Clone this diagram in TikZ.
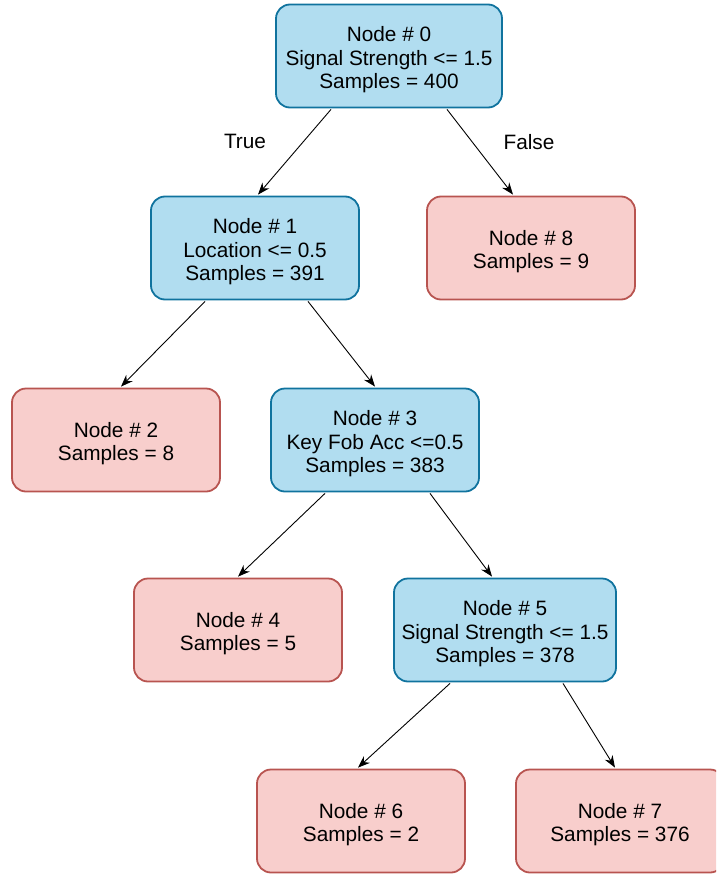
\documentclass[tikz,border=0pt]{standalone}
\usepackage{fontspec}
\setmainfont{Liberation Sans}
\usetikzlibrary{arrows.meta}
\definecolor{bfill}{HTML}{B1DDF0}
\definecolor{bdraw}{HTML}{10739E}
\definecolor{rfill}{HTML}{F8CECC}
\definecolor{rdraw}{HTML}{B85450}
\newcommand{\boxtext}[1]{\raisebox{-9.7pt}[0pt][0pt]{\begin{tabular}{@{}c@{}}#1\end{tabular}}}
\tikzset{
  box/.style={rounded corners=14pt, line width=1.8pt, minimum width=208pt, minimum height=103pt,
    font=\fontsize{20.8}{23.5}\selectfont, inner sep=0pt},
  split/.style={box, fill=bfill, draw=bdraw},
  leaf/.style={box, fill=rfill, draw=rdraw},
  arr/.style={-{Stealth[length=12pt,width=9pt]}, line width=0.9pt, black},
  lbl/.style={font=\fontsize{20.8}{24}\selectfont}
}
\begin{document}
\begin{tikzpicture}[x=1pt,y=-1pt]
\useasboundingbox (0,0) rectangle (716,875);
\begin{scope}
\clip (0,0) rectangle (716,875);
\node[split, minimum width=226pt] (n0) at (389,56) {\boxtext{Node \# 0\\Signal Strength <= 1.5\\Samples = 400}};
\node[split] (n1) at (255,248) {\boxtext{Node \# 1\\Location <= 0.5\\Samples = 391}};
\node[leaf] (n8) at (531,248) {\boxtext{Node \# 8\\Samples = 9}};
\node[leaf] (n2) at (116,440) {\boxtext{Node \# 2\\Samples = 8}};
\node[split] (n3) at (375,440) {\boxtext{Node \# 3\\Key Fob Acc <=0.5\\Samples = 383}};
\node[leaf] (n4) at (238,630) {\boxtext{Node \# 4\\Samples = 5}};
\node[split, minimum width=222pt] (n5) at (505,630) {\boxtext{Node \# 5\\Signal Strength <= 1.5\\Samples = 378}};
\node[leaf] (n6) at (361,821) {\boxtext{Node \# 6\\Samples = 2}};
\node[leaf] (n7) at (620,821) {\boxtext{Node \# 7\\Samples = 376}};
\end{scope}
\draw[arr] ([xshift=-58pt,yshift=-1pt]n0.south) -- ([xshift=3pt,yshift=1pt]n1.north);
\draw[arr] ([xshift=58pt,yshift=-1pt]n0.south) -- ([xshift=-18pt,yshift=1pt]n8.north);
\draw[arr] ([xshift=-50pt,yshift=-1pt]n1.south) -- ([xshift=5pt,yshift=1pt]n2.north);
\draw[arr] ([xshift=53pt,yshift=-1pt]n1.south) -- ([xshift=0pt,yshift=1pt]n3.north);
\draw[arr] ([xshift=-50pt,yshift=-1pt]n3.south) -- ([xshift=0pt,yshift=1pt]n4.north);
\draw[arr] ([xshift=55pt,yshift=-1pt]n3.south) -- ([xshift=-13pt,yshift=1pt]n5.north);
\draw[arr] ([xshift=-55pt,yshift=-1pt]n5.south) -- ([xshift=-3pt,yshift=1pt]n6.north);
\draw[arr] ([xshift=58pt,yshift=-1pt]n5.south) -- ([xshift=-5pt,yshift=1pt]n7.north);
\node[lbl] (t) at (245,141) {True};
\node[lbl] (f) at (529,142) {False};
\end{tikzpicture}
\end{document}
